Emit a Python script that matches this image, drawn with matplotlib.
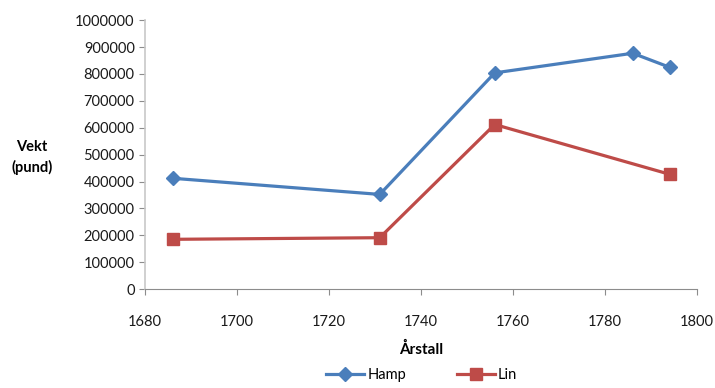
import matplotlib.pyplot as plt

plt.rcParams['font.family'] = ['Lato', 'DejaVu Sans']

# data
hamp_years = [1686, 1731, 1756, 1786, 1794]
hamp_vekt = [412000, 352000, 804000, 877000, 825000]
lin_years = [1686, 1731, 1756, 1794]
lin_vekt = [185000, 191000, 612000, 427000]

xticks = [1680, 1700, 1720, 1740, 1760, 1780, 1800]
yticks = list(range(0, 1000001, 100000))

blue = '#4a7ebb'
red = '#be4b48'

fig = plt.figure(figsize=(7.15, 3.88), dpi=100)
ax = fig.add_axes([0.203, 0.255, 0.772, 0.693])

ax.plot(hamp_years, hamp_vekt, color=blue, lw=2.3, marker='D', ms=7.5,
        mec=blue, mfc=blue, label='Hamp')
ax.plot(lin_years, lin_vekt, color=red, lw=2.3, marker='s', ms=9,
        mec=red, mfc=red, label='Lin')

ax.set_xlim(1680, 1800)
ax.set_ylim(0, 1000000)
ax.set_xticks(xticks)
ax.set_yticks(yticks)
ax.set_xticklabels([str(t) for t in xticks])
ax.set_yticklabels([str(t) for t in yticks])

for s in ['top', 'right']:
    ax.spines[s].set_visible(False)
ax.spines['left'].set_color('#c8c8c8')
ax.spines['bottom'].set_color('#8c8c8c')
ax.spines['left'].set_linewidth(1.2)
ax.tick_params(axis='both', colors='#8c8c8c', length=4, labelsize=10.5,
               labelcolor='#1a1a1a')
ax.tick_params(axis='x', pad=15)

ax.set_xlabel('Årstall', fontsize=11, fontweight='bold', labelpad=9)
fig.text(0.045, 0.595, 'Vekt\n(pund)', fontsize=10.5, fontweight='bold',
         ha='center', va='center', linespacing=1.5)

fig.legend(loc='center', bbox_to_anchor=(0.59, 0.034), ncol=2, frameon=False,
           fontsize=10.5, handlelength=2.6, columnspacing=3.5, handletextpad=0.2)

fig.savefig('out.png', dpi=100)
